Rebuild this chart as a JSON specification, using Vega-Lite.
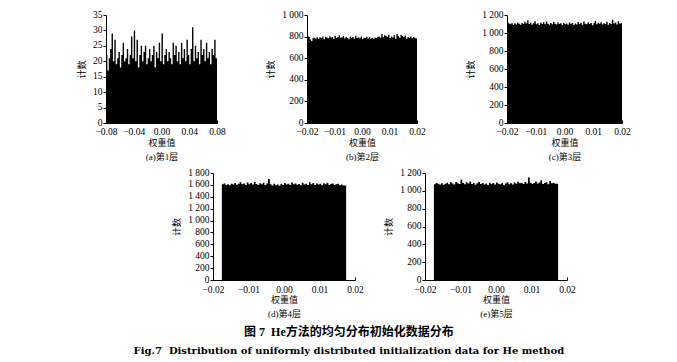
{
"$schema":"https://vega.github.io/schema/vega-lite/v6.json",
"padding":{"left":77,"top":9,"right":5,"bottom":5},
"spacing":6,
"title":{"text":"图 7\u00a0\u00a0He方法的均匀分布初始化数据分布","subtitle":"Fig.7\u00a0\u00a0Distribution of uniformly distributed initialization data for He method","orient":"bottom","anchor":"middle","dx":-5,"offset":9,"font":"Liberation Serif, Noto Sans CJK SC","fontSize":12,"fontWeight":"bold","color":"black","subtitleFont":"DejaVu Serif","subtitleFontSize":10,"subtitleFontWeight":"bold","subtitleColor":"black","subtitlePadding":7},
"datasets":{
"a":[{"x":-0.080,"c":22},{"x":-0.078,"c":17},{"x":-0.076,"c":21},{"x":-0.074,"c":24},{"x":-0.072,"c":29},{"x":-0.070,"c":20},{"x":-0.068,"c":27},{"x":-0.066,"c":19},{"x":-0.064,"c":21},{"x":-0.062,"c":23},{"x":-0.060,"c":18},{"x":-0.058,"c":22},{"x":-0.056,"c":26},{"x":-0.054,"c":20},{"x":-0.052,"c":21},{"x":-0.050,"c":24},{"x":-0.048,"c":19},{"x":-0.046,"c":22},{"x":-0.044,"c":28},{"x":-0.042,"c":21},{"x":-0.040,"c":30},{"x":-0.038,"c":20},{"x":-0.036,"c":27},{"x":-0.034,"c":18},{"x":-0.032,"c":22},{"x":-0.030,"c":25},{"x":-0.028,"c":20},{"x":-0.026,"c":23},{"x":-0.024,"c":25},{"x":-0.022,"c":19},{"x":-0.020,"c":21},{"x":-0.018,"c":24},{"x":-0.016,"c":20},{"x":-0.014,"c":22},{"x":-0.012,"c":25},{"x":-0.010,"c":18},{"x":-0.008,"c":23},{"x":-0.006,"c":21},{"x":-0.004,"c":26},{"x":-0.002,"c":20},{"x":0.000,"c":29},{"x":0.002,"c":19},{"x":0.004,"c":22},{"x":0.006,"c":24},{"x":0.008,"c":20},{"x":0.010,"c":23},{"x":0.012,"c":21},{"x":0.014,"c":19},{"x":0.016,"c":26},{"x":0.018,"c":22},{"x":0.020,"c":25},{"x":0.022,"c":20},{"x":0.024,"c":23},{"x":0.026,"c":19},{"x":0.028,"c":26},{"x":0.030,"c":21},{"x":0.032,"c":24},{"x":0.034,"c":20},{"x":0.036,"c":27},{"x":0.038,"c":22},{"x":0.040,"c":19},{"x":0.042,"c":24},{"x":0.044,"c":31},{"x":0.046,"c":20},{"x":0.048,"c":25},{"x":0.050,"c":21},{"x":0.052,"c":23},{"x":0.054,"c":19},{"x":0.056,"c":27},{"x":0.058,"c":22},{"x":0.060,"c":24},{"x":0.062,"c":20},{"x":0.064,"c":26},{"x":0.066,"c":21},{"x":0.068,"c":23},{"x":0.070,"c":19},{"x":0.072,"c":24},{"x":0.074,"c":22},{"x":0.076,"c":27},{"x":0.078,"c":21},{"x":0.080,"c":21}],
"b":[{"x":-0.0200,"c":805},{"x":-0.0195,"c":798},{"x":-0.0190,"c":772},{"x":-0.0185,"c":760},{"x":-0.0180,"c":785},{"x":-0.0175,"c":790},{"x":-0.0170,"c":779},{"x":-0.0165,"c":793},{"x":-0.0160,"c":781},{"x":-0.0155,"c":795},{"x":-0.0150,"c":787},{"x":-0.0145,"c":800},{"x":-0.0140,"c":776},{"x":-0.0135,"c":799},{"x":-0.0130,"c":791},{"x":-0.0125,"c":784},{"x":-0.0120,"c":803},{"x":-0.0115,"c":789},{"x":-0.0110,"c":796},{"x":-0.0105,"c":780},{"x":-0.0100,"c":808},{"x":-0.0095,"c":786},{"x":-0.0090,"c":794},{"x":-0.0085,"c":812},{"x":-0.0080,"c":790},{"x":-0.0075,"c":791},{"x":-0.0070,"c":805},{"x":-0.0065,"c":783},{"x":-0.0060,"c":797},{"x":-0.0055,"c":788},{"x":-0.0050,"c":775},{"x":-0.0045,"c":802},{"x":-0.0040,"c":790},{"x":-0.0035,"c":796},{"x":-0.0030,"c":781},{"x":-0.0025,"c":809},{"x":-0.0020,"c":787},{"x":-0.0015,"c":793},{"x":-0.0010,"c":784},{"x":-0.0005,"c":799},{"x":0.0000,"c":777},{"x":0.0005,"c":790},{"x":0.0010,"c":786},{"x":0.0015,"c":798},{"x":0.0020,"c":782},{"x":0.0025,"c":795},{"x":0.0030,"c":781},{"x":0.0035,"c":788},{"x":0.0040,"c":779},{"x":0.0045,"c":792},{"x":0.0050,"c":787},{"x":0.0055,"c":797},{"x":0.0060,"c":801},{"x":0.0065,"c":789},{"x":0.0070,"c":823},{"x":0.0075,"c":794},{"x":0.0080,"c":812},{"x":0.0085,"c":806},{"x":0.0090,"c":798},{"x":0.0095,"c":818},{"x":0.0100,"c":787},{"x":0.0105,"c":800},{"x":0.0110,"c":792},{"x":0.0115,"c":812},{"x":0.0120,"c":781},{"x":0.0125,"c":824},{"x":0.0130,"c":803},{"x":0.0135,"c":789},{"x":0.0140,"c":816},{"x":0.0145,"c":805},{"x":0.0150,"c":793},{"x":0.0155,"c":810},{"x":0.0160,"c":780},{"x":0.0165,"c":797},{"x":0.0170,"c":788},{"x":0.0175,"c":802},{"x":0.0180,"c":785},{"x":0.0185,"c":795},{"x":0.0190,"c":790},{"x":0.0195,"c":782},{"x":0.0200,"c":782}],
"c":[{"x":-0.0200,"c":1120},{"x":-0.0195,"c":1105},{"x":-0.0190,"c":1098},{"x":-0.0185,"c":1112},{"x":-0.0180,"c":1090},{"x":-0.0175,"c":1108},{"x":-0.0170,"c":1095},{"x":-0.0165,"c":1117},{"x":-0.0160,"c":1102},{"x":-0.0155,"c":1093},{"x":-0.0150,"c":1110},{"x":-0.0145,"c":1099},{"x":-0.0140,"c":1124},{"x":-0.0135,"c":1106},{"x":-0.0130,"c":1142},{"x":-0.0125,"c":1101},{"x":-0.0120,"c":1115},{"x":-0.0115,"c":1092},{"x":-0.0110,"c":1109},{"x":-0.0105,"c":1131},{"x":-0.0100,"c":1097},{"x":-0.0095,"c":1107},{"x":-0.0090,"c":1088},{"x":-0.0085,"c":1113},{"x":-0.0080,"c":1100},{"x":-0.0075,"c":1119},{"x":-0.0070,"c":1096},{"x":-0.0065,"c":1127},{"x":-0.0060,"c":1104},{"x":-0.0055,"c":1091},{"x":-0.0050,"c":1110},{"x":-0.0045,"c":1098},{"x":-0.0040,"c":1121},{"x":-0.0035,"c":1103},{"x":-0.0030,"c":1094},{"x":-0.0025,"c":1116},{"x":-0.0020,"c":1100},{"x":-0.0015,"c":1108},{"x":-0.0010,"c":1089},{"x":-0.0005,"c":1112},{"x":0.0000,"c":1097},{"x":0.0005,"c":1105},{"x":0.0010,"c":1093},{"x":0.0015,"c":1118},{"x":0.0020,"c":1099},{"x":0.0025,"c":1110},{"x":0.0030,"c":1090},{"x":0.0035,"c":1106},{"x":0.0040,"c":1095},{"x":0.0045,"c":1122},{"x":0.0050,"c":1101},{"x":0.0055,"c":1113},{"x":0.0060,"c":1092},{"x":0.0065,"c":1128},{"x":0.0070,"c":1104},{"x":0.0075,"c":1096},{"x":0.0080,"c":1117},{"x":0.0085,"c":1099},{"x":0.0090,"c":1110},{"x":0.0095,"c":1087},{"x":0.0100,"c":1107},{"x":0.0105,"c":1133},{"x":0.0110,"c":1098},{"x":0.0115,"c":1114},{"x":0.0120,"c":1102},{"x":0.0125,"c":1120},{"x":0.0130,"c":1095},{"x":0.0135,"c":1109},{"x":0.0140,"c":1101},{"x":0.0145,"c":1126},{"x":0.0150,"c":1093},{"x":0.0155,"c":1111},{"x":0.0160,"c":1099},{"x":0.0165,"c":1148},{"x":0.0170,"c":1105},{"x":0.0175,"c":1116},{"x":0.0180,"c":1094},{"x":0.0185,"c":1130},{"x":0.0190,"c":1102},{"x":0.0195,"c":1110},{"x":0.0200,"c":1110}],
"d":[{"x":-0.0175,"c":1610},{"x":-0.0170,"c":1625},{"x":-0.0165,"c":1600},{"x":-0.0160,"c":1612},{"x":-0.0155,"c":1595},{"x":-0.0150,"c":1620},{"x":-0.0145,"c":1608},{"x":-0.0140,"c":1630},{"x":-0.0135,"c":1602},{"x":-0.0130,"c":1618},{"x":-0.0125,"c":1645},{"x":-0.0120,"c":1610},{"x":-0.0115,"c":1625},{"x":-0.0110,"c":1598},{"x":-0.0105,"c":1640},{"x":-0.0100,"c":1612},{"x":-0.0095,"c":1630},{"x":-0.0090,"c":1605},{"x":-0.0085,"c":1650},{"x":-0.0080,"c":1615},{"x":-0.0075,"c":1600},{"x":-0.0070,"c":1628},{"x":-0.0065,"c":1610},{"x":-0.0060,"c":1635},{"x":-0.0055,"c":1598},{"x":-0.0050,"c":1622},{"x":-0.0045,"c":1700},{"x":-0.0040,"c":1612},{"x":-0.0035,"c":1590},{"x":-0.0030,"c":1618},{"x":-0.0025,"c":1595},{"x":-0.0020,"c":1608},{"x":-0.0015,"c":1585},{"x":-0.0010,"c":1615},{"x":-0.0005,"c":1600},{"x":0.0000,"c":1632},{"x":0.0005,"c":1605},{"x":0.0010,"c":1620},{"x":0.0015,"c":1597},{"x":0.0020,"c":1640},{"x":0.0025,"c":1610},{"x":0.0030,"c":1625},{"x":0.0035,"c":1602},{"x":0.0040,"c":1615},{"x":0.0045,"c":1595},{"x":0.0050,"c":1638},{"x":0.0055,"c":1608},{"x":0.0060,"c":1620},{"x":0.0065,"c":1600},{"x":0.0070,"c":1645},{"x":0.0075,"c":1612},{"x":0.0080,"c":1630},{"x":0.0085,"c":1598},{"x":0.0090,"c":1622},{"x":0.0095,"c":1605},{"x":0.0100,"c":1618},{"x":0.0105,"c":1592},{"x":0.0110,"c":1628},{"x":0.0115,"c":1610},{"x":0.0120,"c":1635},{"x":0.0125,"c":1600},{"x":0.0130,"c":1615},{"x":0.0135,"c":1625},{"x":0.0140,"c":1598},{"x":0.0145,"c":1610},{"x":0.0150,"c":1620},{"x":0.0155,"c":1595},{"x":0.0160,"c":1605},{"x":0.0165,"c":1590},{"x":0.0170,"c":1590},{"x":0.0175,"c":1590}],
"e":[{"x":-0.0175,"c":1075},{"x":-0.0170,"c":1088},{"x":-0.0165,"c":1080},{"x":-0.0160,"c":1072},{"x":-0.0155,"c":1085},{"x":-0.0150,"c":1068},{"x":-0.0145,"c":1079},{"x":-0.0140,"c":1090},{"x":-0.0135,"c":1075},{"x":-0.0130,"c":1095},{"x":-0.0125,"c":1082},{"x":-0.0120,"c":1070},{"x":-0.0115,"c":1100},{"x":-0.0110,"c":1085},{"x":-0.0105,"c":1078},{"x":-0.0100,"c":1128},{"x":-0.0095,"c":1088},{"x":-0.0090,"c":1074},{"x":-0.0085,"c":1096},{"x":-0.0080,"c":1081},{"x":-0.0075,"c":1105},{"x":-0.0070,"c":1077},{"x":-0.0065,"c":1092},{"x":-0.0060,"c":1069},{"x":-0.0055,"c":1084},{"x":-0.0050,"c":1098},{"x":-0.0045,"c":1076},{"x":-0.0040,"c":1089},{"x":-0.0035,"c":1072},{"x":-0.0030,"c":1083},{"x":-0.0025,"c":1066},{"x":-0.0020,"c":1091},{"x":-0.0015,"c":1078},{"x":-0.0010,"c":1087},{"x":-0.0005,"c":1070},{"x":0.0000,"c":1094},{"x":0.0005,"c":1080},{"x":0.0010,"c":1073},{"x":0.0015,"c":1088},{"x":0.0020,"c":1065},{"x":0.0025,"c":1082},{"x":0.0030,"c":1097},{"x":0.0035,"c":1075},{"x":0.0040,"c":1086},{"x":0.0045,"c":1071},{"x":0.0050,"c":1093},{"x":0.0055,"c":1079},{"x":0.0060,"c":1102},{"x":0.0065,"c":1084},{"x":0.0070,"c":1090},{"x":0.0075,"c":1076},{"x":0.0080,"c":1099},{"x":0.0085,"c":1083},{"x":0.0090,"c":1150},{"x":0.0095,"c":1092},{"x":0.0100,"c":1078},{"x":0.0105,"c":1088},{"x":0.0110,"c":1105},{"x":0.0115,"c":1081},{"x":0.0120,"c":1094},{"x":0.0125,"c":1120},{"x":0.0130,"c":1077},{"x":0.0135,"c":1089},{"x":0.0140,"c":1095},{"x":0.0145,"c":1073},{"x":0.0150,"c":1110},{"x":0.0155,"c":1085},{"x":0.0160,"c":1092},{"x":0.0165,"c":1080},{"x":0.0170,"c":1080},{"x":0.0175,"c":1080}]
},
"vconcat":[
{"hconcat":[
{"width":111,"height":108,"data":{"name":"a"},"mark":{"type":"area","interpolate":"step-after","color":"black"},
"encoding":{"x":{"field":"x","type":"quantitative","scale":{"domain":[-0.08,0.08],"nice":false,"zero":false},"axis":{"values":[-0.08,-0.04,0,0.04,0.08],"format":".2f","title":["权重值","(a)第1层"]}},
"y":{"field":"c","type":"quantitative","scale":{"domain":[0,35],"nice":false},"axis":{"values":[0,5,10,15,20,25,30,35],"title":"计数"}}}},
{"width":110,"height":108,"data":{"name":"b"},"mark":{"type":"area","interpolate":"step-after","color":"black"},
"encoding":{"x":{"field":"x","type":"quantitative","scale":{"domain":[-0.02,0.02],"nice":false,"zero":false},"axis":{"values":[-0.02,-0.01,0,0.01,0.02],"format":".2f","title":["权重值","(b)第2层"]}},
"y":{"field":"c","type":"quantitative","scale":{"domain":[0,1000],"nice":false},"axis":{"values":[0,200,400,600,800,1000],"title":"计数"}}}},
{"width":115,"height":108,"data":{"name":"c"},"mark":{"type":"area","interpolate":"step-after","color":"black"},
"encoding":{"x":{"field":"x","type":"quantitative","scale":{"domain":[-0.02,0.02],"nice":false,"zero":false},"axis":{"values":[-0.02,-0.01,0,0.01,0.02],"format":".2f","title":["权重值","(c)第3层"]}},
"y":{"field":"c","type":"quantitative","scale":{"domain":[0,1200],"nice":false},"axis":{"values":[0,200,400,600,800,1000,1200],"title":"计数"}}}}
],"spacing":40},
{"hconcat":[
{"width":46,"height":107,"data":{"values":[]},"mark":"point"},
{"width":142,"height":107,"data":{"name":"d"},"mark":{"type":"area","interpolate":"step-after","color":"black"},
"encoding":{"x":{"field":"x","type":"quantitative","scale":{"domain":[-0.02,0.02],"nice":false,"zero":false},"axis":{"values":[-0.02,-0.01,0,0.01,0.02],"format":".2f","labelPadding":7,"titlePadding":2,"title":["权重值","(d)第4层"]}},
"y":{"field":"c","type":"quantitative","scale":{"domain":[0,1800],"nice":false},"axis":{"values":[0,200,400,600,800,1000,1200,1400,1600,1800],"title":"计数"}}}},
{"width":142,"height":107,"data":{"name":"e"},"mark":{"type":"area","interpolate":"step-after","color":"black"},
"encoding":{"x":{"field":"x","type":"quantitative","scale":{"domain":[-0.02,0.02],"nice":false,"zero":false},"axis":{"values":[-0.02,-0.01,0,0.01,0.02],"format":".2f","labelPadding":7,"titlePadding":2,"title":["权重值","(e)第5层"]}},
"y":{"field":"c","type":"quantitative","scale":{"domain":[0,1200],"nice":false},"axis":{"values":[0,200,400,600,800,1000,1200],"title":"计数"}}}}
],"spacing":20}
],
"config":{
"view":{"stroke":null},
"font":"Liberation Serif, Noto Sans CJK SC",
"axis":{"grid":false,"domainColor":"black","tickColor":"black","labelColor":"black","titleColor":"black","labelFont":"Liberation Serif","labelFontSize":9.5,"titleFont":"Liberation Serif, Noto Sans CJK SC","titleFontSize":9,"titleFontWeight":"normal","domainWidth":1,"tickWidth":1,"labelOverlap":false,"labelBound":false},
"axisX":{"tickSize":-3,"labelPadding":6,"titlePadding":3,"titleLineHeight":13.5,"labelFlush":false},
"axisY":{"tickSize":3,"labelPadding":1,"labelOffset":-1,"titlePadding":6,"labelExpr":"replace(format(datum.value, ','), ',', ' ')"}
}
}
